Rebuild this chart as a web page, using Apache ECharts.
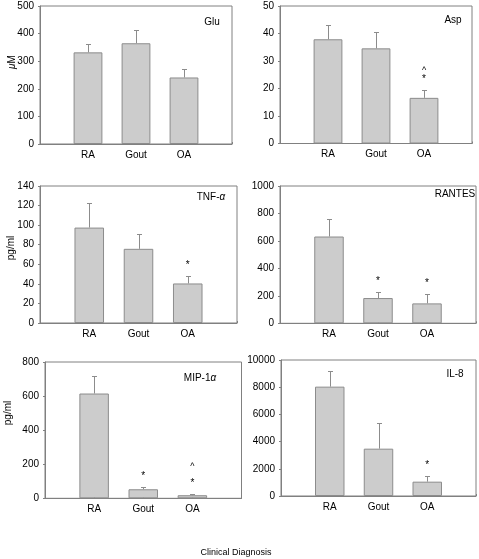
<!DOCTYPE html>
<html><head><meta charset="utf-8">
<script src="https://cdn.jsdelivr.net/npm/echarts@6/dist/echarts.min.js"></script>
<style>html,body{margin:0;padding:0;background:#fff}#c{width:479px;height:559px}</style>
</head><body><div id="c"></div>
<script>
// ---------- data ----------
const categories = ['RA', 'Gout', 'OA'];

const gluMean = [332, 365, 241];
const gluSE   = [31, 48, 32];
const aspMean = [37.9, 34.6, 16.6];
const aspSE   = [5.2, 5.8, 2.7];
const tnfMean = [97.5, 75.8, 40.4];
const tnfSE   = [25.5, 15.6, 7.2];
const rantesMean = [632, 184, 145];
const rantesSE   = [131, 41, 66];
const mipMean = [615, 53, 18];
const mipSE   = [101, 11, 6];
const il8Mean = [8040, 3480, 1054];
const il8SE   = [1127, 1863, 392];

// significance marks per category (bottom to top)
const aspMarks    = [[], [], ['*', '^']];
const tnfMarks    = [[], [], ['*']];
const rantesMarks = [[], ['*'], ['*']];
const mipMarks    = [[], ['*'], ['*', '^']];
const il8Marks    = [[], [], ['*']];
const noMarks     = [[], [], []];

const yMax      = [500, 50, 140, 1000, 800, 10000];
const yInterval = [100, 10, 20, 200, 200, 2000];
const panelNames = ['Glu', 'Asp', 'TNF-{i|α}', 'RANTES', 'MIP-1{i|α}', 'IL-8'];
const yTitles = ['{i|μ}M', '', 'pg/ml', '', 'pg/ml', ''];
const xTitle = 'Clinical Diagnosis';

// ---------- layout ----------
const W = 479, H = 559;
const grids = [
  {left: 40, top: 6, right: 232, bottom: 144},
  {left: 280, top: 6, right: 472, bottom: 143.5},
  {left: 40, top: 186, right: 237, bottom: 323},
  {left: 280, top: 186, right: 476.5, bottom: 323.3},
  {left: 45, top: 362, right: 241.5, bottom: 498.3},
  {left: 281, top: 360, right: 477.5, bottom: 496}
];
const nameCenters = [[212, 22], [453, 20], [211, 197], [455, 194], [200, 378.5], [455, 374]];
const yTitlePos = [[12, 62], null, [11, 248], null, [8, 413], null];
const markGap = [0, 9, 0, 0, 17, 0];

const panels = [
  {mean: gluMean, se: gluSE, marks: noMarks},
  {mean: aspMean, se: aspSE, marks: aspMarks},
  {mean: tnfMean, se: tnfSE, marks: tnfMarks},
  {mean: rantesMean, se: rantesSE, marks: rantesMarks},
  {mean: mipMean, se: mipSE, marks: mipMarks},
  {mean: il8Mean, se: il8SE, marks: il8Marks}
];

const FONT = '"Liberation Sans", Arial, Helvetica, sans-serif';
const AXIS = '#808080';

const option = {
  animation: false,
  backgroundColor: '#fff',
  grid: [], xAxis: [], yAxis: [], series: [], graphic: []
};

panels.forEach((p, i) => {
  const g = grids[i];
  const gw = g.right - g.left;
  option.grid.push({
    left: g.left, top: g.top, width: gw, height: g.bottom - g.top,
    show: true, borderColor: AXIS, borderWidth: 1, containLabel: false
  });
  option.xAxis.push({
    type: 'value', gridIndex: i, min: 0, max: 4, interval: 1,
    axisLine: {lineStyle: {color: AXIS}},
    axisTick: {show: true, inside: true, length: 2, lineStyle: {color: AXIS}},
    splitLine: {show: false},
    axisLabel: {
      color: '#000', fontSize: 10, fontFamily: FONT, margin: 6,
      formatter: v => categories[v - 1] || ''
    }
  });
  option.yAxis.push({
    type: 'value', gridIndex: i, min: 0, max: yMax[i], interval: yInterval[i],
    axisLine: {show: true, lineStyle: {color: AXIS}},
    axisTick: {show: true, length: 2, lineStyle: {color: AXIS}},
    splitLine: {show: false},
    axisLabel: {color: '#000', fontSize: 10, fontFamily: FONT, margin: 6,
      formatter: v => String(v)}
  });
  const bw = gw / 4 * 0.6;
  option.series.push({
    type: 'bar', xAxisIndex: i, yAxisIndex: i, barWidth: bw,
    itemStyle: {color: '#cccccc', borderColor: '#8c8c8c', borderWidth: 1},
    data: p.mean.map((v, k) => [k + 1, v]),
    z: 2
  });
  option.series.push({
    type: 'custom', xAxisIndex: i, yAxisIndex: i, z: 3,
    encode: {x: 0, y: 1},
    data: p.mean.map((v, k) => [k + 1, v + p.se[k], v]),
    renderItem: (params, api) => {
      const x = api.value(0), top = api.value(1), m = api.value(2);
      const a = api.coord([x, m]);
      const b = api.coord([x, top]);
      const cx = Math.round(a[0]) + 0.5;
      const yb = Math.round(b[1]) + 0.5;
      return {type: 'group', children: [
        {type: 'line', shape: {x1: cx, y1: a[1], x2: cx, y2: yb}, style: {stroke: '#8c8c8c', lineWidth: 1}},
        {type: 'line', shape: {x1: cx - 2.5, y1: yb, x2: cx + 2.5, y2: yb}, style: {stroke: '#8c8c8c', lineWidth: 1}}
      ]};
    }
  });
  const markData = [];
  p.marks.forEach((list, k) => list.forEach((t, n) => markData.push([k + 1, p.mean[k] + p.se[k], n, t])));
  if (markData.length) {
    option.series.push({
      type: 'custom', xAxisIndex: i, yAxisIndex: i, z: 4,
      encode: {x: 0, y: 1},
      data: markData,
      renderItem: (params, api) => {
        const x = api.value(0), top = api.value(1), n = api.value(2);
        const t = markData[params.dataIndex][3];
        const b = api.coord([x, top]);
        const off = 11 + n * markGap[i];
        return {type: 'text', x: b[0], y: b[1] - off,
          style: {text: t, fill: '#000', font: (t === '*' ? '10px ' : '9px ') + FONT, align: 'center', verticalAlign: 'middle'}};
      }
    });
  }
  option.graphic.push({
    type: 'text', x: nameCenters[i][0], y: nameCenters[i][1],
    style: {text: panelNames[i], fill: '#000', font: '10px ' + FONT, align: 'center', verticalAlign: 'middle',
      rich: {i: {fontStyle: 'italic', fontSize: 10, fontFamily: FONT}}}
  });
  if (yTitlePos[i]) {
    option.graphic.push({
      type: 'text', x: yTitlePos[i][0], y: yTitlePos[i][1], rotation: Math.PI / 2,
      style: {text: yTitles[i], fill: '#000', font: '10px ' + FONT, align: 'center', verticalAlign: 'middle',
        rich: {i: {fontStyle: 'italic', fontSize: 10, fontFamily: FONT}}}
    });
  }
});

option.graphic.push({
  type: 'text', x: 236, y: 553,
  style: {text: xTitle, fill: '#000', font: '9px ' + FONT, align: 'center', verticalAlign: 'middle'}
});

const chart = echarts.init(document.getElementById('c'), null, {renderer: 'canvas', width: W, height: H});
chart.setOption(option);
</script>
</body></html>
